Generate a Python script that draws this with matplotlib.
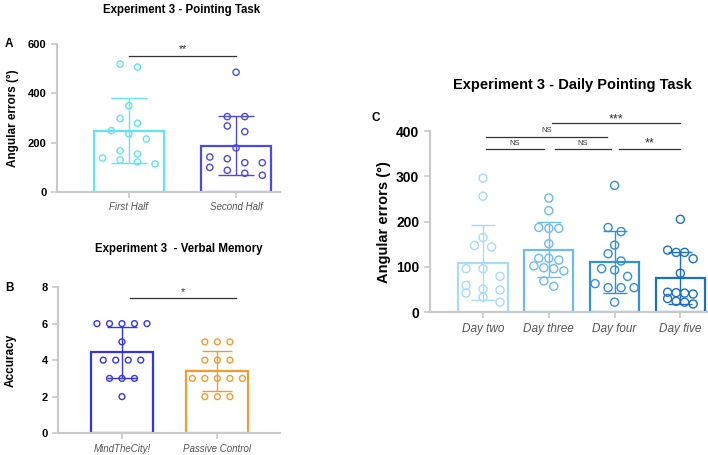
import numpy as np
import matplotlib.pyplot as plt

# Panel A - pointing task
a_labels = ["First Half", "Second Half"]
a_first = [519, 507, 350, 298, 279, 249, 236, 215, 167, 154, 130, 138, 122, 114]
a_second = [486, 306, 306, 268, 245, 179, 142, 135, 119, 119, 100, 88, 76, 68]
a_mean = [249, 188]
a_sd = [133, 119]

# Panel B - verbal memory
b_labels = ["MindTheCity!", "Passive Control"]
b_mtc = [6, 6, 6, 6, 6, 5, 4, 4, 4, 4, 3, 3, 3, 2]
b_passive = [5, 5, 5, 4, 4, 4, 3, 3, 3, 3, 3, 2, 2, 2]
b_mean = [4.42, 3.42]
b_sd = [1.42, 1.1]

# Panel C - daily pointing task
c_labels = ["Day two", "Day three", "Day four", "Day five"]
c_day2 = [296, 256, 165, 144, 147, 96, 96, 79, 59, 51, 42, 49, 33, 22]
c_day3 = [252, 224, 187, 185, 185, 151, 119, 119, 115, 98, 96, 91, 102, 69, 57]
c_day4 = [280, 178, 187, 148, 129, 113, 96, 93, 79, 63, 54, 54, 54, 22]
c_day5 = [205, 132, 118, 132, 137, 86, 40, 30, 44, 42, 43, 24, 22, 18]
c_mean = [109, 138, 111, 75]
c_sd = [83, 60, 68, 57]

plt.rcParams["font.family"] = ["Liberation Sans", "DejaVu Sans"]

grey = "#c9c9c9"
tick_grey = "#555555"


def rows_x(ax, xc, vals, gap, win):
    # groups values lying within `win` pixels into centred horizontal rows
    vals = np.asarray(vals, float)
    pts = ax.transData.transform(np.column_stack([np.full(len(vals), xc), vals]))
    py = pts[:, 1]
    px0 = pts[0, 0]
    order = np.argsort(vals, kind="stable")
    xs = np.zeros(len(vals))
    groups = []
    for i in order:
        if groups and py[i] - py[groups[-1][0]] <= win:
            groups[-1].append(i)
        else:
            groups.append([i])
    for g in groups:
        n = len(g)
        for j, i in enumerate(g):
            xs[i] = px0 + ((n - 1) / 2 - j) * gap
    inv = ax.transData.inverted()
    return inv.transform(np.column_stack([xs, py]))[:, 0]


def style(ax, fs_tick, fs_y):
    for s in ["top", "right"]:
        ax.spines[s].set_visible(False)
    for s in ["left", "bottom"]:
        ax.spines[s].set_color(grey)
        ax.spines[s].set_linewidth(1.5)
    ax.tick_params(axis="both", color=grey, width=1.2, length=4)
    ax.tick_params(axis="x", labelcolor=tick_grey, labelsize=fs_tick)
    ax.tick_params(axis="y", labelsize=fs_y)
    for lab in ax.get_xticklabels():
        lab.set_fontstyle("italic")
    for lab in ax.get_yticklabels():
        lab.set_fontweight("bold")


def draw_group(ax, xc, vals, mean, sd, color, width, ms, gap, win, cap):
    ax.bar(xc, mean, width=width, facecolor="white", edgecolor=color, linewidth=1.6, zorder=1)
    ax.errorbar(xc, mean, yerr=sd, fmt="none", ecolor=color, elinewidth=1.0,
                capsize=cap, capthick=1.0, zorder=2)
    xs = rows_x(ax, xc, vals, gap, win)
    ax.scatter(xs, vals, s=ms ** 2, facecolors="none", edgecolors=color,
               linewidths=1.0, zorder=3, clip_on=False)


def sig(ax, x0, x1, y, text, ty, fs):
    ax.plot([x0, x1], [y, y], color="#333333", lw=0.9, clip_on=False)
    ax.text((x0 + x1) / 2, ty, text, ha="center", va="center", fontsize=fs, color="#333333")


fig = plt.figure(figsize=(7.08, 4.55), dpi=100)

# ---- A
axA = fig.add_axes([0.0805, 0.578, 0.315, 0.325])
axA.set_xlim(-0.67, 1.41)
axA.set_ylim(0, 600)
axA.set_yticks([0, 200, 400, 600])
axA.set_xticks([0, 1])
axA.set_xticklabels(a_labels)
a_cols = ["#5fe6ee", "#4b4be3"]
for i, vals in enumerate([a_first, a_second]):
    draw_group(axA, i, vals, a_mean[i], a_sd[i], a_cols[i], 0.65, 4.5, 17.5, 8.6, 13)
style(axA, 7, 8)
axA.set_ylabel("Angular errors (°)", fontsize=8.5, fontweight="bold", labelpad=6)
sig(axA, 0, 1, 551, "**", 580, 7.5)
fig.text(0.257, 0.978, "Experiment 3 - Pointing Task", ha="center", va="center",
         fontsize=8.3, fontweight="bold")
fig.text(0.007, 0.903, "A", fontsize=8.5, fontweight="bold", va="center")

# ---- B
axB = fig.add_axes([0.082, 0.048, 0.314, 0.321])
axB.set_xlim(-0.67, 1.66)
axB.set_ylim(0, 8)
axB.set_yticks([0, 2, 4, 6, 8])
axB.set_xticks([0, 1])
axB.set_xticklabels(b_labels)
b_cols = ["#3434ee", "#f59a2e"]
for i, vals in enumerate([b_mtc, b_passive]):
    draw_group(axB, i, vals, b_mean[i], b_sd[i], b_cols[i], 0.65, 4.2, 12.5, 0.5, 11)
style(axB, 7, 8)
axB.set_ylabel("Accuracy", fontsize=8.5, fontweight="bold", labelpad=18)
sig(axB, 0.08, 1.2, 7.38, "*", 7.75, 7.5)
fig.text(0.253, 0.453, "Experiment 3  - Verbal Memory", ha="center", va="center",
         fontsize=8.3, fontweight="bold")
fig.text(0.007, 0.368, "B", fontsize=8.5, fontweight="bold", va="center")

# ---- C
axC = fig.add_axes([0.607, 0.314, 0.393, 0.398])
axC.set_xlim(-0.81, 3.42)
axC.set_ylim(0, 400)
axC.set_yticks([0, 100, 200, 300, 400])
axC.set_xticks(range(4))
axC.set_xticklabels(c_labels)
c_cols = ["#a9daf7", "#6cbcf1", "#2f90dc", "#1a6fcb"]
c_gaps = [17, 10, 13, 8.5]
for i, vals in enumerate([c_day2, c_day3, c_day4, c_day5]):
    draw_group(axC, i, vals, c_mean[i], c_sd[i], c_cols[i], 0.75, 5.8, c_gaps[i], 9.5, 8.5)
style(axC, 8.5, 10)
axC.set_ylabel("Angular errors (°)", fontsize=10.5, fontweight="bold", labelpad=4)
sig(axC, 0.04, 0.92, 360, "NS", 372, 5.5)
sig(axC, 1.1, 1.94, 360, "NS", 372, 5.5)
sig(axC, 2.07, 3.0, 360, "**", 372, 9)
sig(axC, 0.04, 1.89, 387, "NS", 401, 5.5)
sig(axC, 1.05, 2.99, 418, "***", 425, 9)
fig.text(0.808, 0.813, "Experiment 3 - Daily Pointing Task", ha="center", va="center",
         fontsize=10.5, fontweight="bold")
fig.text(0.525, 0.741, "C", fontsize=8.5, fontweight="bold", va="center")

fig.savefig("out.png", dpi=100)
